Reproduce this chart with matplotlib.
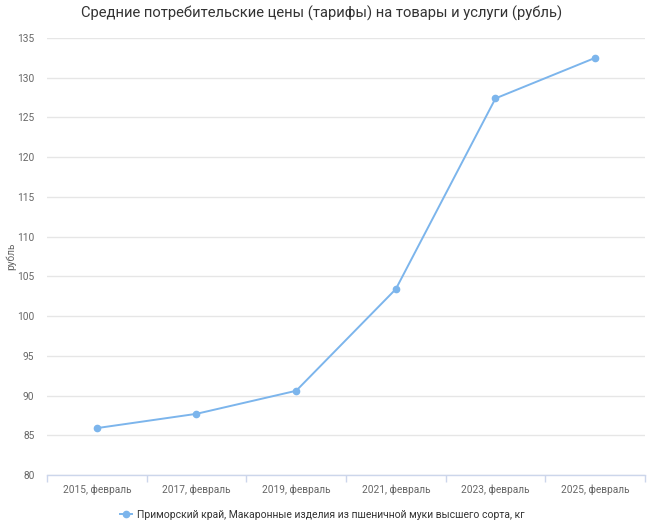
import matplotlib
matplotlib.use("Agg")
import matplotlib.pyplot as plt
from matplotlib.lines import Line2D

categories = ["2015, февраль", "2017, февраль", "2019, февраль",
              "2021, февраль", "2023, февраль", "2025, февраль"]
values = [85.9, 87.7, 90.6, 103.4, 127.4, 132.5]
yticks = [80, 85, 90, 95, 100, 105, 110, 115, 120, 125, 130, 135]
title = "Средние потребительские цены (тарифы) на товары и услуги (рубль)"
ylabel = "рубль"
series_name = "Приморский край, Макаронные изделия из пшеничной муки высшего сорта, кг"

plt.rcParams['font.family'] = ['Roboto', 'DejaVu Sans']

fig = plt.figure(figsize=(6.56, 5.26), dpi=100)
ax = fig.add_axes([47/656, 1-475/526, (645-47)/656, (475-38)/526])

color = "#7cb5ec"
x = list(range(len(categories)))
ax.plot(x, values, color=color, lw=1.4, marker="o", ms=4.5, zorder=3, clip_on=False)

ax.set_xlim(-0.5, len(categories) - 0.5)
ax.set_ylim(80, 135)
ax.set_yticks(yticks)
ax.set_yticklabels([str(t) for t in yticks], fontsize=7.3, color="#666666")
ax.yaxis.grid(True, color="#e6e6e6", lw=1)
ax.set_axisbelow(True)
ax.tick_params(axis="y", length=0, pad=9)

ax.set_xticks(x)
ax.set_xticklabels(categories, fontsize=7.3, color="#666666")
ax.tick_params(axis="x", length=0, pad=7)
ax.set_xticks([i - 0.5 for i in range(len(categories) + 1)], minor=True)
ax.tick_params(axis="x", which="minor", length=5, color="#ccd6eb", width=1)

for s in ["top", "right", "left"]:
    ax.spines[s].set_visible(False)
ax.spines["bottom"].set_color("#ccd6eb")
ax.spines["bottom"].set_linewidth(1)

fig.text(11/656, 1-256/526, ylabel, rotation=90, ha="center", va="center",
         fontsize=7.3, color="#666666")

fig.text(322/656, 1-13/526, title, ha="center", va="center", fontsize=10.6, color="#333333")

handle = Line2D([0], [0], color=color, lw=1.4, marker="o", ms=4.5)
fig.legend([handle], [series_name], loc="center", bbox_to_anchor=(322/656, 1-515/526),
           frameon=False, fontsize=7.5, handlelength=1.2, handletextpad=0.4,
           labelcolor="#333333")

fig.savefig("out.png", dpi=100, facecolor="white")
